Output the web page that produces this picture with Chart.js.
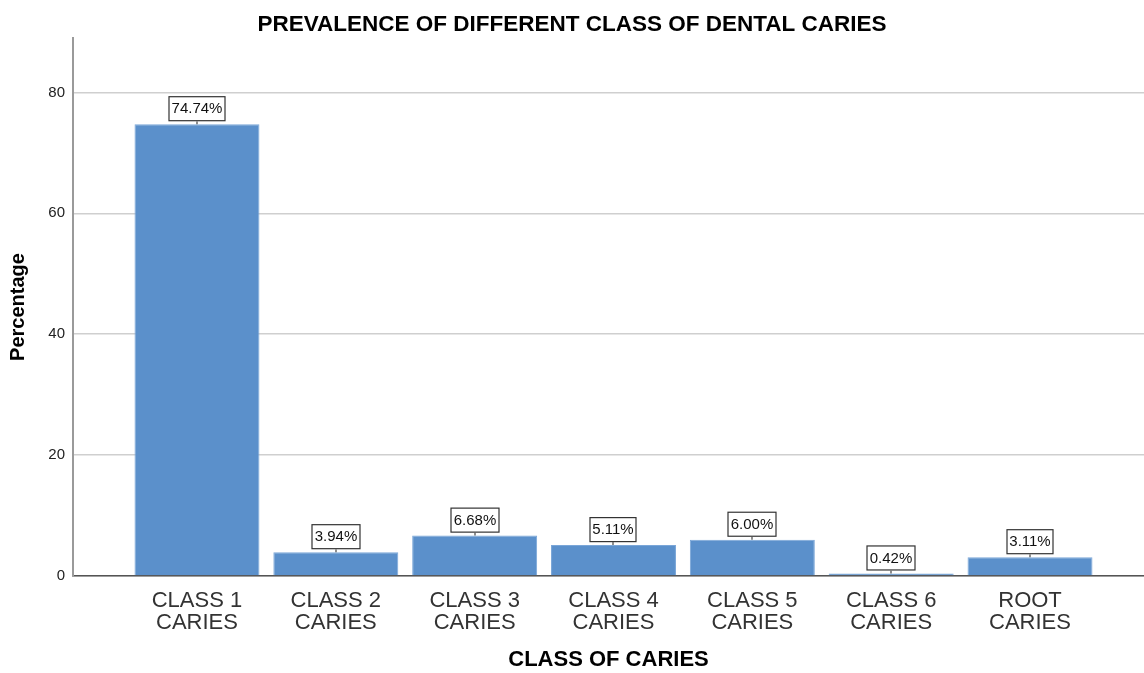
<!DOCTYPE html>
<html>
<head>
<meta charset="utf-8">
<script src="https://cdn.jsdelivr.net/npm/chart.js@4/dist/chart.umd.min.js"></script>
<style>
  html, body { margin: 0; padding: 0; background: #ffffff; }
  canvas { display: block; }
</style>
</head>
<body>
<canvas id="chart" width="1144" height="673"></canvas>
<script>
// Caries classes (two-line axis labels) and their prevalence in percent
const categories = [
  ["CLASS 1", "CARIES"],
  ["CLASS 2", "CARIES"],
  ["CLASS 3", "CARIES"],
  ["CLASS 4", "CARIES"],
  ["CLASS 5", "CARIES"],
  ["CLASS 6", "CARIES"],
  ["ROOT", "CARIES"]
];
const percentages = [74.74, 3.94, 6.68, 5.11, 6.00, 0.42, 3.11];
const yTicks = [0, 20, 40, 60, 80];

const FONT = "'Liberation Sans', Arial, Helvetica, sans-serif";

// Boxed value labels above each bar, joined to the bar by a short stem
const valueBoxes = {
  id: 'valueBoxes',
  afterDatasetsDraw(chart) {
    const ctx = chart.ctx;
    const meta = chart.getDatasetMeta(0);
    ctx.save();
    ctx.font = '15px ' + FONT;
    ctx.textAlign = 'center';
    ctx.textBaseline = 'middle';
    meta.data.forEach((bar, i) => {
      const text = percentages[i].toFixed(2) + '%';
      const w = Math.round(ctx.measureText(text).width) + 6;
      const h = 25;
      const cx = Math.round(bar.x);
      const top = bar.y;
      const bottom = top - 3;
      const left = cx - w / 2;
      // stem
      ctx.strokeStyle = '#444';
      ctx.lineWidth = 1.2;
      ctx.beginPath();
      ctx.moveTo(cx, bottom);
      ctx.lineTo(cx, top);
      ctx.stroke();
      // box
      ctx.fillStyle = '#ffffff';
      ctx.fillRect(left, bottom - h, w, h);
      ctx.strokeStyle = '#333';
      ctx.strokeRect(left + 0.5, bottom - h + 0.5, w - 1, h - 1);
      ctx.fillStyle = '#111';
      ctx.fillText(text, cx, bottom - h / 2 + 0.5);
    });
    ctx.restore();
  }
};

new Chart(document.getElementById('chart'), {
  type: 'bar',
  data: {
    datasets: [{
      data: percentages.map((v, i) => ({ x: i, y: v })),
      backgroundColor: '#5b90cb',
      borderColor: '#7aa6d8',
      borderWidth: 1,
      barPercentage: 0.9,
      categoryPercentage: 1.0
    }]
  },
  options: {
    responsive: false,
    animation: false,
    devicePixelRatio: 1,
    layout: { padding: { left: 0, right: 0, top: 0, bottom: 0 } },
    plugins: {
      legend: { display: false },
      tooltip: { enabled: false },
      title: {
        display: true,
        text: 'PREVALENCE OF DIFFERENT CLASS OF DENTAL CARIES',
        color: '#000',
        font: { family: FONT, size: 22.5, weight: 'bold', lineHeight: 1.2 },
        padding: { top: 11, bottom: 0 }
      }
    },
    scales: {
      x: {
        type: 'linear',
        offset: false,
        min: -0.893,
        max: 6.821,
        afterBuildTicks(scale) {
          scale.ticks = categories.map((_, i) => ({ value: i }));
        },
        afterFit(scale) { scale.height = 97; },
        grid: { display: false, drawTicks: false },
        border: { display: true, color: '#555', width: 1.5 },
        ticks: {
          padding: 14,
          maxRotation: 0,
          autoSkip: false,
          color: '#333',
          font: { family: FONT, size: 22, lineHeight: 1.0 },
          callback: (value) => categories[value]
        },
        title: {
          display: true,
          text: 'CLASS OF CARIES',
          color: '#000',
          font: { family: FONT, size: 22, weight: 'bold', lineHeight: 1.2 },
          padding: { top: 0, bottom: 0 }
        }
      },
      y: {
        min: 0,
        max: 89,
        afterBuildTicks(scale) {
          scale.ticks = yTicks.map(v => ({ value: v }));
        },
        afterFit(scale) { scale.width = 73; },
        grid: { color: '#cfcfcf', lineWidth: 1.5, drawTicks: false },
        border: { display: true, color: '#9a9a9a', width: 2 },
        ticks: {
          padding: 8,
          color: '#222',
          font: { family: FONT, size: 15 }
        },
        title: {
          display: true,
          text: 'Percentage',
          color: '#000',
          font: { family: FONT, size: 20, weight: 'bold', lineHeight: 1.2 },
          padding: { top: 6, bottom: 0 }
        }
      }
    }
  },
  plugins: [valueBoxes]
});
</script>
</body>
</html>
